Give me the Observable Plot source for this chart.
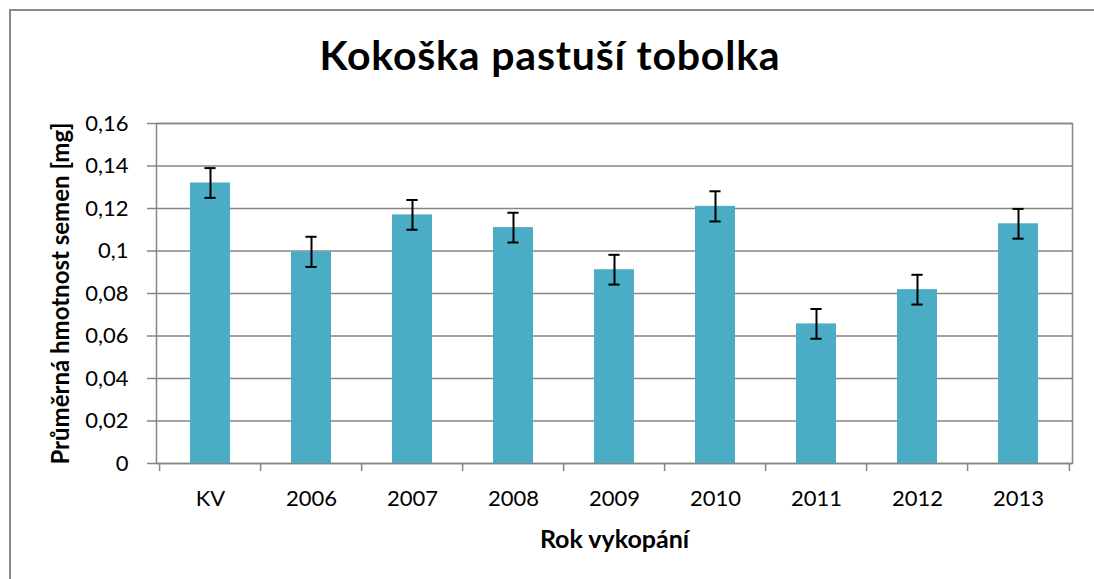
<!DOCTYPE html>
<html>
<head>
<meta charset="utf-8">
<script src="https://cdn.jsdelivr.net/npm/d3@7"></script>
<script src="https://cdn.jsdelivr.net/npm/@observablehq/plot@0.6"></script>
<style>
  html, body { margin: 0; padding: 0; background: #fff; }
  #wrap { position: relative; width: 1094px; height: 579px; overflow: hidden; font-family: Lato, sans-serif; }
  #border { position: absolute; left: 9px; top: 9px; width: 1200px; height: 700px; border: 2px solid #8a8a8a; box-sizing: border-box; }
  #title { position: absolute; left: 0; top: 34px; width: 1100px; text-align: center; font-size: 41px; line-height: 41px; letter-spacing: 0.8px; font-weight: bold; color: #000; }
  #chart { position: absolute; left: 0; top: 0; }
</style>
</head>
<body>
<div id="wrap">
  <div id="border"></div>
  <div id="chart"></div>
  <div id="title">Kokoška pastuší tobolka</div>
</div>
<script>
const categories = ["KV", "2006", "2007", "2008", "2009", "2010", "2011", "2012", "2013"];
const means = [0.132, 0.0996, 0.117, 0.111, 0.0912, 0.121, 0.0657, 0.0818, 0.1128];
const errors = [0.007, 0.0071, 0.007, 0.007, 0.007, 0.0071, 0.007, 0.007, 0.007];
const yTicks = [0, 0.02, 0.04, 0.06, 0.08, 0.1, 0.12, 0.14, 0.16];
const yTitle = "Průměrná hmotnost semen [mg]";
const xTitle = "Rok vykopání";

const data = categories.map((c, i) => ({cat: c, mean: means[i], err: errors[i]}));

const W = 1094, H = 579, mL = 156, mR = 22, mT = 123, mB = 116;
const step = (W - mL - mR) / categories.length;
const gray = "#868686";
const fmt = d => String(+d.toFixed(2)).replace(".", ",");

const plot = Plot.plot({
  width: W, height: H,
  marginLeft: mL, marginRight: mR, marginTop: mT, marginBottom: mB,
  style: {fontFamily: "Lato, sans-serif", fontSize: "22px", color: "#000", background: "transparent"},
  x: {type: "band", domain: categories, paddingInner: 0.6, paddingOuter: 0.3, align: 0.5},
  y: {domain: [0, 0.16]},
  marks: [
    Plot.gridY(yTicks, {stroke: gray, strokeOpacity: 1, strokeWidth: 1.5}),
    Plot.frame({stroke: gray, strokeWidth: 1.5}),
    Plot.barY(data, {x: "cat", y: "mean", fill: "#4BACC6"}),
    Plot.ruleX(data, {x: "cat", y1: d => d.mean - d.err, y2: d => d.mean + d.err, stroke: "#000", strokeWidth: 2}),
    Plot.tickY(data, {x: "cat", y: d => d.mean - d.err, stroke: "#000", strokeWidth: 2, insetLeft: 14.4, insetRight: 14.4}),
    Plot.tickY(data, {x: "cat", y: d => d.mean + d.err, stroke: "#000", strokeWidth: 2, insetLeft: 14.4, insetRight: 14.4}),
    Plot.ruleX(categories, {x: d => d, y1: 0, y2: 0, dx: -step / 2, insetBottom: -8, stroke: gray, strokeWidth: 1.5}),
    Plot.ruleX(categories.slice(-1), {x: d => d, y1: 0, y2: 0, dx: step / 2, insetBottom: -8, stroke: gray, strokeWidth: 1.5}),
    Plot.axisY({ticks: yTicks, tickFormat: fmt, tickSize: 9, tickPadding: 19, stroke: gray, strokeWidth: 1.5, label: null, fill: "#000"}),
    Plot.axisX({tickSize: 0, tickPadding: 27, label: null, fill: "#000"}),
    Plot.text([yTitle], {frameAnchor: "left", textAnchor: "middle", rotate: -90, dx: -95, fontWeight: "bold", fontSize: 24, fill: "#000"}),
    Plot.text([xTitle], {frameAnchor: "bottom", dy: 84, fontWeight: "bold", fontSize: 25, fill: "#000"})
  ]
});
document.getElementById("chart").appendChild(plot);
</script>
</body>
</html>
